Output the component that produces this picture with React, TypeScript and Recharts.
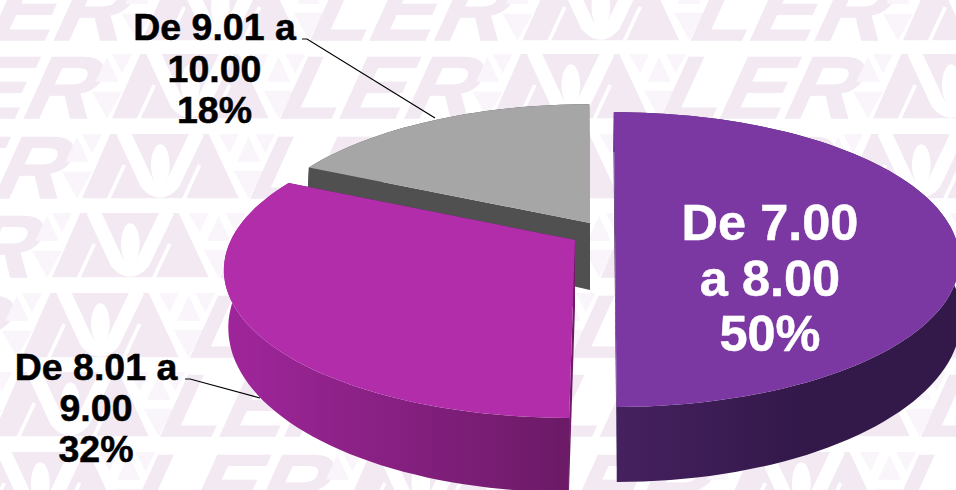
import React from "react";
import { PieChart, Pie } from "recharts";

const categories = ["De 7.00 a 8.00", "De 9.01 a 10.00", "De 8.01 a 9.00"];
const values = [50, 18, 32];
const labelLines = [["De 7.00", "a 8.00"], ["De 9.01 a", "10.00"], ["De 8.01 a", "9.00"]];
const topColors = ["#7b38a3", "#a6a6a6", "#b12daa"];
const sideColors = ["#33184a", "#505050", "#6e1a68"];
const wallStops = [["#46215f", "#33184a"], ["#505050", "#505050"], ["#9e2599", "#6a1a65"]];

const data = categories.map((name, i) => ({ name, value: values[i] }));

const W = 956;
const H = 490;
const BASE = { x: 590, y: 232 };
const TILT = 0.187;
const TILT_BOTTOM = 0.109;
const DEPTH = 67;
const sectorLayout = [
  { dx: 25, dy: 0, R: 338, S: 142.2, Rb: 344, Sb: 163, shear: 0.01, gx: [617, 800] },
  { dx: 0, dy: -9, R: 335, S: 141, Rb: 328, Sb: 160, shear: 0.006, gx: [300, 590] },
  { dx: -15, dy: 8, R: 344, S: 144.6, Rb: 344, Sb: 165, shear: -0.033, gx: [240, 575] },
];
const labelLayout = [
  { x: 770, y: 240, lh: 55.5, size: 50.5, fill: "#ffffff", leader: "" },
  { x: 214.5, y: 40, lh: 41.5, size: 37.5, fill: "#000000", leader: "302,39 307,39 435,118" },
  { x: 96, y: 380, lh: 41, size: 37.5, fill: "#000000", leader: "185,379 190,379 260,398" },
];
const FONT = "'Liberation Sans', Arial, sans-serif";

function point(l: any, deg: number, cx: number, cy: number, bottom: boolean) {
  const a = (deg * Math.PI) / 180;
  const u = Math.cos(a);
  const v = Math.sin(a);
  const w = 1 + (bottom ? TILT_BOTTOM : TILT) * v;
  const Rx = bottom ? l.Rb : l.R;
  const Ry = bottom ? l.Sb : l.S;
  const py = -Ry * (v / w);
  const x = cx + l.dx + (Rx * u) / w + l.shear * py;
  const y = cy + l.dy + py + (bottom ? DEPTH : 0);
  return [x, y];
}
function centerPoint(l: any, cx: number, cy: number, bottom: boolean) {
  return [cx + l.dx, cy + l.dy + (bottom ? DEPTH : 0)];
}
function arc(l: any, a0: number, a1: number, cx: number, cy: number, bottom: boolean) {
  const n = Math.max(2, Math.ceil(Math.abs(a1 - a0) / 2));
  const pts: number[][] = [];
  for (let i = 0; i <= n; i++) pts.push(point(l, a0 + ((a1 - a0) * i) / n, cx, cy, bottom));
  return pts;
}
const toPath = (pts: number[][]) =>
  "M" + pts.map((p) => p[0].toFixed(1) + " " + p[1].toFixed(1)).join("L") + "Z";

function Slice3D(props: any) {
  const { cx, cy, startAngle, endAngle, index } = props;
  const l = sectorLayout[index];
  const top = arc(l, startAngle, endAngle, cx, cy, false);
  const bot = arc(l, startAngle, endAngle, cx, cy, true);
  const c0 = centerPoint(l, cx, cy, false);
  const c1 = centerPoint(l, cx, cy, true);
  const id = "wall" + index;
  const radial = (first: boolean) => {
    const i = first ? 0 : top.length - 1;
    return toPath([c0, top[i], bot[i], c1]);
  };
  return (
    <g>
      <defs>
        <linearGradient id={id} gradientUnits="userSpaceOnUse" x1={l.gx[0]} x2={l.gx[1]} y1={0} y2={0}>
          <stop offset="0" stopColor={wallStops[index][0]} />
          <stop offset="1" stopColor={wallStops[index][1]} />
        </linearGradient>
      </defs>
      <path d={toPath([...top, ...bot.slice().reverse()])} fill={`url(#${id})`} />
      <path d={radial(true)} fill={sideColors[index]} />
      <path d={radial(false)} fill={sideColors[index]} />
      <path d={toPath([c0, ...top])} fill={topColors[index]} />
    </g>
  );
}

function SliceLabel(props: any) {
  const { index } = props;
  const l = labelLayout[index];
  const lines = [...labelLines[index], values[index] + "%"];
  return (
    <g>
      {l.leader && <polyline points={l.leader} fill="none" stroke="#000000" strokeWidth={1.2} />}
      <text
        textAnchor="middle"
        fontFamily={FONT}
        fontWeight={700}
        fontSize={l.size}
        fill={l.fill}
        stroke={l.fill}
        strokeWidth={0.5}
      >
        {lines.map((t, i) => (
          <tspan key={i} x={l.x} y={l.y + i * l.lh}>
            {t}
          </tspan>
        ))}
      </text>
    </g>
  );
}

// Page background: a tiled watermark image, as in the source picture
const ROW_TOPS = [-24, 54, 134, 213, 293, 372, 452];
const TILE_PERIOD = 380.5;
const LILAC = "#f2e9f3";
const PALE = "#f9f5fb";

function tileMarkup(x: number, y: number) {
  return `<g transform="translate(${x} ${y})">
    <g transform="translate(-193 64) skewX(-13.5)">
      <text x="0" y="0" font-family="Liberation Sans" font-style="italic" font-weight="700" font-size="88" textLength="194" lengthAdjust="spacingAndGlyphs" fill="${LILAC}" stroke="${LILAC}" stroke-width="1.5">LER</text>
    </g>
    <g transform="scale(0.3333) translate(-185 -12)">
      <path fill="${PALE}" d="M230 20L265 95H195ZM185 125H275L230 205ZM245 12H305L275 70ZM745 20L780 95H710ZM700 122H790L745 205ZM655 12H715L688 70ZM765 12H825L795 70Z"/>
      <path fill="${LILAC}" d="M330 12H625L715 205H245Z"/>
      <path fill="none" stroke="#ffffff" stroke-width="42" d="M368 6L440 160Q478 205 518 160L592 6"/>
      <ellipse cx="480" cy="105" rx="28" ry="62" fill="#ffffff"/>
      <path fill="none" stroke="#ffffff" stroke-width="11" d="M322 212L372 105M548 212L598 105"/>
    </g>
  </g>`;
}

function watermarkImage() {
  let body = "";
  ROW_TOPS.forEach((y, r) => {
    const offset = 122 - 30 * r;
    for (let n = -1; n <= 3; n++) body += tileMarkup(offset + n * TILE_PERIOD, y);
  });
  const svg = `<svg xmlns="http://www.w3.org/2000/svg" width="${W}" height="${H}">${body}</svg>`;
  return `url("data:image/svg+xml,${encodeURIComponent(svg)}")`;
}

export default function App() {
  return (
    <div
      style={{
        position: "fixed",
        left: 0,
        top: 0,
        width: W,
        height: H,
        overflow: "hidden",
        backgroundColor: "#ffffff",
        backgroundImage: watermarkImage(),
        backgroundRepeat: "no-repeat",
      }}
    >
      <PieChart width={W} height={H} margin={{ top: 0, right: 0, bottom: 0, left: 0 }}>
        <Pie
          data={data}
          dataKey="value"
          nameKey="name"
          cx={BASE.x}
          cy={BASE.y}
          outerRadius={150}
          startAngle={-90}
          endAngle={270}
          stroke="none"
          isAnimationActive={false}
          shape={Slice3D}
          label={SliceLabel}
          labelLine={false}
        />
      </PieChart>
    </div>
  );
}
